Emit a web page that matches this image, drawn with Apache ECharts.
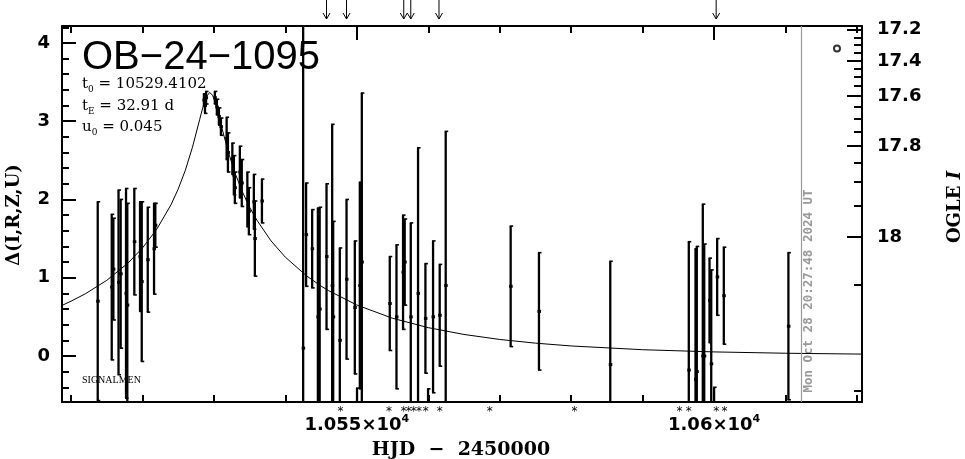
<!DOCTYPE html>
<html>
<head>
<meta charset="utf-8">
<script src="https://cdn.jsdelivr.net/npm/echarts@6/dist/echarts.min.js"></script>
<style>html,body{margin:0;padding:0;background:#fff}#c{width:965px;height:459px}</style>
</head>
<body>
<div id="c"></div>
<script>
// ---------- data ----------
const obsT = [10513.74,10515.70,10515.93,10516.65,10516.95,10517.70,10517.88,10518.86,10519.66,10519.90,10520.74,10521.62,10521.80,
  10528.60,10528.75,10528.90,10530.13,10530.41,10530.70,10530.98,10531.78,10531.96,10532.58,10532.79,10532.93,10533.63,10533.90,10534.68,10534.89,10535.59,10535.73,10536.72,
  10542.49,10542.90,10543.75,10544.55,10544.80,10545.76,10546.55,10546.69,10547.62,10548.56,10549.72,10550.03,10550.42,10550.70,
  10554.61,10555.55,10556.47,10556.70,10557.55,10558.57,10559.60,10559.97,10560.67,10561.60,10562.44,
  10571.53,10575.49,10585.47,10596.46,10597.40,10597.58,10598.42,10598.62,10599.36,10599.60,10600.00,10600.43,10601.36,10610.40];
const obsV = [0.70,0.88,1.11,0.94,1.05,0.80,0.65,1.46,1.27,0.95,1.23,1.37,1.67,
  3.27,3.20,3.30,3.30,3.18,3.06,2.93,2.78,2.60,2.52,2.31,2.15,2.35,2.21,2.00,1.85,1.97,1.50,1.98,
  0.10,1.55,1.37,0.50,0.60,1.27,0.90,0.50,0.20,0.98,0.62,-0.90,0.90,1.20,
  0.67,0.50,1.07,1.20,0.50,0.80,0.48,-0.90,0.50,0.52,0.90,
  0.89,0.57,-0.11,-0.18,-0.30,-0.20,0.00,0.00,0.71,-0.10,-0.90,1.01,0.77,0.38];
const obsE = [1.27,0.93,0.65,1.18,0.95,1.34,1.30,0.68,0.70,1.02,0.67,0.58,0.28,
  0.08,0.10,0.08,0.08,0.10,0.11,0.11,0.27,0.25,0.20,0.25,0.20,0.33,0.30,0.35,0.30,0.35,0.48,0.28,
  4.20,0.66,0.50,1.39,1.30,0.93,2.06,1.22,1.18,1.02,0.85,0.49,1.32,2.16,
  0.60,0.92,0.73,0.55,1.20,1.86,0.70,0.48,0.97,0.65,1.97,
  0.77,0.75,1.32,1.64,1.67,1.60,1.94,1.43,0.54,1.20,0.50,0.49,0.62,0.94];

// model curve values
const curveT = [10508.74,10510,10512,10515,10518,10520,10522,10524,10525,10526,10527,10528,10528.2,10528.7,10528.9,10529.41,10529.8,10530,10530.5,10531,10532,10533,10534,10535,10536,10538,10540,10543,10545,10546,10550,10555,10560,10565,10570,10575,10580,10590,10600,10610,10620.7];
const curveV = [0.646,0.700,0.794,0.966,1.189,1.380,1.619,1.933,2.132,2.373,2.668,3.018,3.091,3.256,3.307,3.368,3.332,3.288,3.133,2.953,2.610,2.326,2.094,1.901,1.737,1.470,1.262,1.021,0.893,0.837,0.651,0.482,0.362,0.275,0.211,0.164,0.128,0.080,0.052,0.035,0.024];

const arrowT = [10545.76,10548.56,10556.57,10557.55,10561.50,10600.29];
const starT = [10547.72,10554.52,10556.57,10557.27,10557.97,10558.71,10559.65,10561.60,10568.60,10580.48,10595.16,10596.46,10600.29,10601.45];
const markerPt = [[10617.2, 3.93]];
const nowT = 10612.26;

// tick labels
const xMajorTicks = [10550, 10600];
const xMajorLabels = ['1.055×10', '1.06×10'];
const xMinorTicks = [10510,10520,10530,10540,10560,10570,10580,10590,10610,10620];
const yMajorTicks = [0,1,2,3,4];
const yMinorTicks = [-0.4,-0.2,0.2,0.4,0.6,0.8,1.2,1.4,1.6,1.8,2.2,2.4,2.6,2.8,3.2,3.4,3.6,3.8,4.2];
const magLabels = ['17.2','17.4','17.6','17.8','18'];
const magMajorPos = [4.174,3.768,3.321,2.685,1.522];
const magMinorPos = [4.07,3.978,3.88,3.676,3.565,3.447,3.18,3.033,2.87,2.475,2.229,1.923,0.914,-0.45];

// ---------- chart ----------
const X0 = 10508.74, X1 = 10620.7, Y0 = -0.588, Y1 = 4.216;
const tickFont = {fontFamily:'DejaVu Sans', fontWeight:'bold', fontSize:18, color:'#000'};

function xAx(pos, ticks, len, labels, showLine) {
  return {type:'value', position:pos, min:X0, max:X1, gridIndex:0,
    axisLine:{show:showLine, onZero:false, lineStyle:{color:'#000', width:2}},
    splitLine:{show:false},
    axisTick:{show:true, inside:true, length:len, customValues:ticks, lineStyle:{color:'#000', width:2}},
    axisLabel: labels ? Object.assign({show:true, customValues:ticks, margin:12,
      formatter:function(v){const i=xMajorTicks.indexOf(v);return '{a|'+xMajorLabels[i]+'}{s|4}';},
      rich:{a:{fontFamily:'DejaVu Sans',fontWeight:'bold',fontSize:18,lineHeight:22,color:'#000'},
            s:{fontFamily:'DejaVu Sans',fontWeight:'bold',fontSize:11,lineHeight:12,verticalAlign:'top',color:'#000'}}}, {}) : {show:false}};
}
function yAx(pos, ticks, len, labelFn, showLine) {
  return {type:'value', position:pos, min:Y0, max:Y1, gridIndex:0,
    axisLine:{show:showLine, onZero:false, lineStyle:{color:'#000', width:2}},
    splitLine:{show:false},
    axisTick:{show:true, inside:true, length:len, customValues:ticks, lineStyle:{color:'#000', width:2}},
    axisLabel: labelFn ? Object.assign({show:true, customValues:ticks, margin:pos==='left'?12:15, formatter:labelFn}, tickFont) : {show:false}};
}

const paramRich = {
  m:{fontFamily:'DejaVu Serif',fontSize:15,lineHeight:20,fill:'#000'},
  s:{fontFamily:'DejaVu Serif',fontSize:9,lineHeight:10,verticalAlign:'bottom',fill:'#000'}
};

const chart = echarts.init(document.getElementById('c'), null, {renderer:'canvas'});
const option = {
  animation:false,
  backgroundColor:'#fff',
  grid:{left:62, right:103, top:26, bottom:57, containLabel:false},
  xAxis:[
    xAx('bottom', xMajorTicks, 14, true, true),
    xAx('bottom', xMinorTicks, 7, false, false),
    xAx('top', xMajorTicks, 14, false, true),
    xAx('top', xMinorTicks, 7, false, false)
  ],
  yAxis:[
    yAx('left', yMajorTicks, 14, function(v){return String(Math.round(v));}, true),
    yAx('left', yMinorTicks, 7, null, false),
    yAx('right', magMajorPos, 15, function(v){let b=0,d=1e9;magMajorPos.forEach((p,i)=>{if(Math.abs(p-v)<d){d=Math.abs(p-v);b=i;}});return magLabels[b];}, true),
    yAx('right', magMinorPos, 8, null, false)
  ],
  series:[
    {type:'line', name:'model', xAxisIndex:0, yAxisIndex:0, data:curveT.map((t,i)=>[t,curveV[i]]),
      showSymbol:false, symbol:'none', smooth:false, lineStyle:{color:'#000', width:1}, z:2,
      markLine:{silent:true, symbol:'none', label:{show:false}, lineStyle:{color:'#999', width:1.2, type:'solid'}, data:[{xAxis:nowT}]}},
    {type:'custom', name:'obs', xAxisIndex:0, yAxisIndex:0, clip:true, z:3,
      data:obsT.map((t,i)=>[t,obsV[i],obsE[i]]), encode:{x:0,y:1},
      renderItem:function(params, api){
        const t=api.value(0), v=api.value(1), e=api.value(2);
        const p=api.coord([t,v]), a=api.coord([t,v+e]), b=api.coord([t,v-e]);
        const st={stroke:'#000', lineWidth:2.3};
        return {type:'group', children:[
          {type:'line', shape:{x1:p[0],y1:a[1],x2:p[0],y2:b[1]}, style:st},
          {type:'line', shape:{x1:p[0]-1,y1:a[1],x2:p[0]+2.5,y2:a[1]}, style:{stroke:'#000',lineWidth:1.6}},
          {type:'line', shape:{x1:p[0]-1,y1:b[1],x2:p[0]+2.5,y2:b[1]}, style:{stroke:'#000',lineWidth:1.6}},
          {type:'rect', shape:{x:p[0]-1.5,y:p[1]-1.5,width:3.5,height:3}, style:{fill:'#000'}}
        ]};
      }},
    {type:'custom', name:'arrows', xAxisIndex:0, yAxisIndex:0, clip:false, silent:true,
      data:arrowT.map(t=>[t,Y1]), encode:{x:0,y:1},
      renderItem:function(params, api){
        const p=api.coord([api.value(0), api.value(1)]);
        return {type:'group', children:[
          {type:'line', shape:{x1:p[0],y1:p[1]-26,x2:p[0],y2:p[1]-7}, style:{stroke:'#000',lineWidth:1}},
          {type:'polyline', shape:{points:[[p[0]-3.5,p[1]-13],[p[0],p[1]-7],[p[0]+3.5,p[1]-13]]}, style:{stroke:'#000',lineWidth:1,fill:null}}
        ]};
      }},
    {type:'custom', name:'stars', xAxisIndex:0, yAxisIndex:0, clip:false, silent:true,
      data:starT.map(t=>[t,Y0]), encode:{x:0,y:1},
      renderItem:function(params, api){
        const p=api.coord([api.value(0), api.value(1)]);
        return {type:'text', style:{text:'*', x:p[0], y:p[1]+10, align:'center', verticalAlign:'middle', fontFamily:'DejaVu Sans', fontSize:12, fill:'#000'}};
      }},
    {type:'scatter', name:'marker', xAxisIndex:0, yAxisIndex:0, data:markerPt, symbol:'circle', symbolSize:6,
      itemStyle:{color:'#fff', borderColor:'#000', borderWidth:2}, z:4}
  ],
  graphic:[
    {type:'text', left:82, top:38, style:{text:'OB−24−1095', fontFamily:'Liberation Sans', fontSize:40, fill:'#000'}},
    {type:'text', left:82, top:77, style:{text:'{m|t}{s|0}{m| = 10529.4102}', rich:paramRich}},
    {type:'text', left:82, top:99, style:{text:'{m|t}{s|E}{m| = 32.91 d}', rich:paramRich}},
    {type:'text', left:82, top:120, style:{text:'{m|u}{s|0}{m| = 0.045}', rich:paramRich}},
    {type:'text', left:82, top:375, style:{text:'SIGNALMEN', fontFamily:'Liberation Serif', fontSize:10, fill:'#000'}},
    {type:'text', x:14, y:215, rotation:Math.PI/2, style:{text:'Δ(I,R,Z,U)', fontFamily:'DejaVu Serif', fontWeight:'bold', fontSize:18, fill:'#000', align:'center', verticalAlign:'middle'}},
    {type:'text', x:955, y:207, rotation:Math.PI/2, style:{text:'{b|OGLE }{i|I}', align:'center', verticalAlign:'middle', rich:{
      b:{fontFamily:'DejaVu Serif', fontWeight:'bold', fontSize:18, fill:'#000'},
      i:{fontFamily:'DejaVu Serif', fontWeight:'bold', fontStyle:'italic', fontSize:18, fill:'#000'}}}},
    {type:'text', x:461, y:450, style:{text:'HJD  −  2450000', fontFamily:'DejaVu Serif', fontWeight:'bold', fontSize:19, fill:'#000', align:'center', verticalAlign:'middle'}},
    {type:'text', x:809, y:291, rotation:Math.PI/2, style:{text:'Mon Oct 28 20:27:48 2024 UT', fontFamily:'DejaVu Sans Mono', fontWeight:'bold', fontSize:12.5, fill:'#999', align:'center', verticalAlign:'middle'}}
  ]
};
chart.setOption(option);
</script>
</body>
</html>
